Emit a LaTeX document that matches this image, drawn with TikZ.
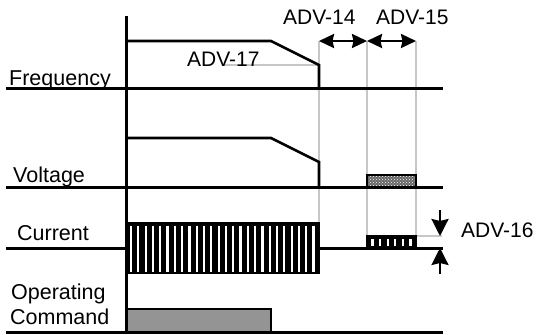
\documentclass[tikz,border=0pt]{standalone}
\usepackage{fontspec}
\setmainfont{Liberation Sans}
\usetikzlibrary{arrows.meta,patterns,calc}
\tikzset{%
  % lines
  axisline/.style={line width=3pt},
  wave/.style={line width=2.6pt, line join=miter},
  guide/.style={draw=black!22, line width=1.6pt},
  % edge styles
  dimrel/.style={{Stealth[length=15pt,width=14pt,inset=1.5pt]}-{Stealth[length=15pt,width=14pt,inset=1.5pt]}, line width=2.4pt},
  rel/.style={-{Stealth[length=17pt,width=17pt,inset=2pt]}, line width=2.4pt},
  % text
  sig/.style={font=\fontsize{21.5}{23}\selectfont, inner sep=0pt, anchor=base west},
  adv/.style={font=\fontsize{21}{23}\selectfont, inner sep=0pt, anchor=base west},
  % blocks
  pulse/.style={fill=black, draw=black, line width=2pt},
  stripe/.style={white, line width=2.2pt},
}
\begin{document}
\begin{tikzpicture}[x=1pt, y=-1pt]
  \useasboundingbox (0,0) rectangle (537,334);

  % Signal names
  \node[sig] (freq) at (9,85) {Frequency};
  \node[sig] (volt) at (13,182) {Voltage};
  \node[sig] (curr) at (17,240) {Current};
  \node[sig] (oper) at (11,299) {Operating};
  \node[sig] (cmd)  at (10,324) {Command};

  % Time marks
  \coordinate (t1) at (319,41);
  \coordinate (t2) at (367,41);
  \coordinate (t3) at (416,41);
  \coordinate (lvl) at (440,236);
  \coordinate (base) at (440,248);
  \coordinate (lvltop) at (440,210);
  \coordinate (basebot) at (440,274);

  % Guides
  \draw[guide] (222,65) -- (319,65);
  \draw[guide] (t1) -- (319,223);
  \draw[guide] (t2) -- (367,236);
  \draw[guide] (t3) -- (416,236) -- (442,236);

  % Frequency
  \draw[axisline] (6,89) -- (443,89);
  \draw[wave] (126,41) -- (271,41) -- (319,65) -- (319,89);

  % Voltage
  \draw[axisline] (6,187) -- (443,187);
  \draw[wave] (126,138) -- (271,138) -- (319,162) -- (319,187);
  \fill[black!60] (367,175) rectangle (416,187);
  \fill[pattern=crosshatch dots, pattern color=white] (367,175) rectangle (416,187);
  \draw[line width=2pt] (367,175) rectangle (416,187);

  % Current
  \draw[axisline] (6,248) -- (126,248);
  \draw[axisline] (319,248) -- (443,248);
  \draw[pulse] (126,223) rectangle (319,273);
  \foreach \i in {0,...,25}
    \draw[stripe] (131+\i*7.3,225.5) -- ++(0,46);
  \draw[pulse] (367,236) rectangle (416,248);
  \foreach \i in {0,...,5}
    \draw[stripe] (372.5+\i*7.6,239) -- ++(0,6.5);

  % Operating command
  \draw[axisline] (6,332) -- (443,332);
  \draw[fill=black!42, line width=2pt] (126,309) rectangle (271,332);

  % Time axis
  \draw[axisline] (126,16) -- (126,334);

  % Parameters
  \node[adv] (a17) at (187,67) {ADV-17};
  \node[adv] (a14) at (283,25) {ADV-14};
  \node[adv] (a15) at (376,25) {ADV-15};
  \node[adv] (a16) at (461,237) {ADV-16};
  \draw[dimrel] (t1) -- (t2);
  \draw[dimrel] (t2) -- (t3);
  \draw[rel] (lvltop) -- (lvl);
  \draw[rel] (basebot) -- (base);
\end{tikzpicture}
\end{document}
